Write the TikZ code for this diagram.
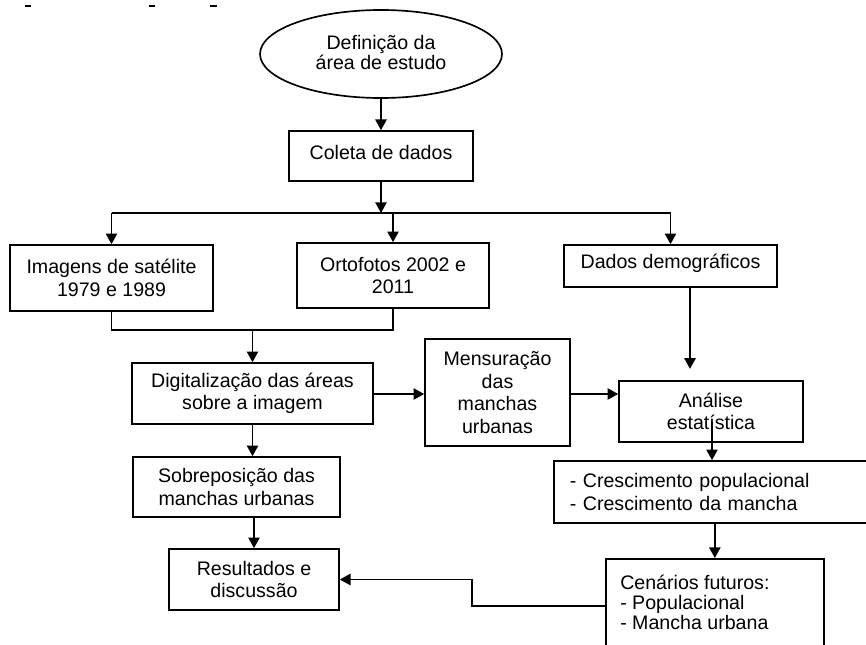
\documentclass[tikz,border=0pt]{standalone}
\usepackage{fontspec}
\setmainfont{Liberation Sans}
\usetikzlibrary{shapes.geometric,arrows.meta,calc}
\begin{document}
\begin{tikzpicture}[x=0.75pt,y=-0.75pt,
  every node/.style={font=\fontsize{14.7pt}{16.9pt}\selectfont},
  box/.style={draw, line width=1.25pt, align=center, inner sep=0pt},
  ln/.style={line width=1.25pt},
  arr/.style={line width=1.25pt, -{Triangle[length=8pt,width=8.5pt]}},
  tight/.style={font=\fontsize{14.7pt}{15pt}\selectfont}]
\useasboundingbox (0,0) rectangle (866,645);
\clip (0,0) rectangle (866,645);
% remnants of cropped text at the top
\fill (25,5) rectangle (31,7);
\fill (149,5) rectangle (155,7);
\fill (210,5) rectangle (217,7);
% nodes
\node[draw, line width=1.25pt, ellipse, inner sep=0pt, minimum width=181.5pt, minimum height=66pt, align=center, tight] (def) at (381,54) {\raisebox{1.5pt}[\height][\depth]{Definição da}\\\raisebox{1.5pt}[\height][\depth]{área de estudo}};
\node[box, minimum width=138pt, minimum height=37.5pt] (col) at (381,156) {\raisebox{3pt}[\height][\depth]{Coleta de dados}};
\node[box, minimum width=152.25pt, minimum height=49.5pt] (img) at (111.5,278) {Imagens de satélite\\1979 e 1989};
\node[box, minimum width=144pt, minimum height=48.75pt] (orto) at (393,275.5) {Ortofotos 2002 e\\2011};
\node[box, minimum width=159.75pt, minimum height=31.5pt] (dados) at (670.5,266) {\raisebox{2pt}[\height][\depth]{Dados demográficos}};
\node[box, minimum width=180.75pt, minimum height=45.75pt] (dig) at (252.5,393.5) {Digitalização das áreas\\sobre a imagem};
\node[box, minimum width=108.75pt, minimum height=80.25pt] (mens) at (497.5,392.5) {Mensuração\\das\\manchas\\urbanas};
\node[box, minimum width=138pt, minimum height=45.75pt] (anl) at (711,411.5) {Análise\\estatística};
\node[box, minimum width=155.25pt, minimum height=45pt] (sob) at (236.5,487) {Sobreposição das\\manchas urbanas};
\node[box, minimum width=127.5pt, minimum height=45.75pt] (res) at (254,579.5) {Resultados e\\discussão};
\node[draw, line width=1.25pt, anchor=west, inner xsep=12pt, inner ysep=0pt, text width=236pt, minimum height=46.5pt, align=left] (cres) at (553,492) {- Crescimento populacional\\- Crescimento da mancha};
\node[draw, line width=1.25pt, anchor=north west, minimum width=163.5pt, minimum height=106pt, inner sep=0pt] (cen) at (605,558) {};
\node[anchor=west, align=left, inner sep=0pt, tight] (centxt) at (620,602) {Cenários futuros:\\- Populacional\\- Mancha urbana};
% connectors
\coordinate (bus) at (382,213);
\coordinate (join) at (253,330);
\draw[arr] (def.south) -- (col.north);
\draw[arr] (col.south) -- (col.south |- bus);
\draw[ln] (img.north |- bus) -- (dados.north |- bus);
\draw[arr] (img.north |- bus) -- (img.north);
\draw[arr] (orto.north |- bus) -- (orto.north);
\draw[arr] (dados.north |- bus) -- (dados.north);
\draw[ln] (img.south) -- (img.south |- join) -| (orto.south);
\draw[arr] (dig.north |- join) -- (dig.north);
\draw[arr] (dig.east |- 0,394) -- (mens.west |- 0,394);
\draw[arr] (mens.east |- 0,394) -- (anl.west |- 0,394);
\draw[arr] ($(dados.south)+(19.5,0)$) -- ($(dados.south)+(19.5,81)$);
\draw[arr] ($(anl.center)+(1,10.5)$) -- ($(cres.north west)+(159,0)$);
\draw[arr] (dig.south) -- (dig.south |- sob.north);
\draw[arr] (sob.north -| res.north) ++(0,60) -- (res.north);
\draw[arr] (cen.north |- cres.south) -- (cen.north);
\draw[arr] ($(cen.north west)+(0,48)$) -- ++(-133,0) |- (res.east);
\end{tikzpicture}
\end{document}
